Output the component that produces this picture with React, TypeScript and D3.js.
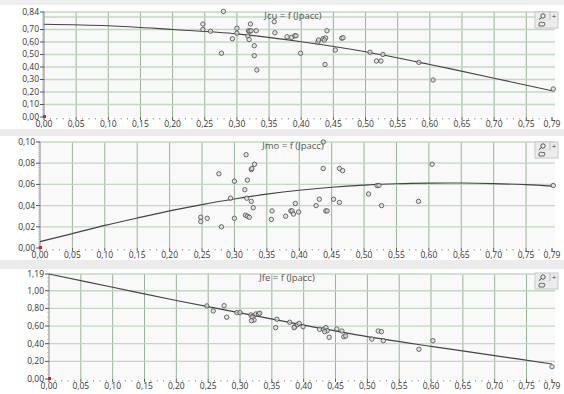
import React from 'react';
import * as d3 from 'd3';

// Jcu = f(Jpacc) measurements [Jpacc, Jcu]
const jcuPoints: [number, number][] = [
  [0.279, 0.845], [0.247, 0.744], [0.247, 0.70], [0.259, 0.686], [0.276, 0.51],
  [0.30, 0.71], [0.30, 0.67], [0.293, 0.626], [0.321, 0.744], [0.318, 0.69],
  [0.32, 0.686], [0.322, 0.69], [0.33, 0.69], [0.317, 0.648], [0.319, 0.62],
  [0.327, 0.57], [0.327, 0.49], [0.331, 0.376], [0.358, 0.762], [0.359, 0.674],
  [0.378, 0.642], [0.385, 0.637], [0.39, 0.65], [0.392, 0.65], [0.399, 0.51],
  [0.426, 0.60], [0.427, 0.616], [0.434, 0.626], [0.438, 0.632], [0.44, 0.69],
  [0.436, 0.616], [0.437, 0.42], [0.453, 0.536], [0.463, 0.63], [0.465, 0.634],
  [0.507, 0.518], [0.517, 0.448], [0.524, 0.448], [0.527, 0.50], [0.583, 0.437],
  [0.605, 0.296], [0.792, 0.224],
];
// fitted curve
const jcuFit: [number, number][] = [
  [0, 0.742], [0.1, 0.73], [0.2, 0.70], [0.3, 0.665], [0.4, 0.602],
  [0.5, 0.522], [0.6, 0.42], [0.7, 0.31], [0.79, 0.21],
];

const jmoPoints: [number, number][] = [
  [0.248, 0.029], [0.248, 0.025], [0.258, 0.028], [0.276, 0.070], [0.28, 0.020],
  [0.294, 0.047], [0.30, 0.063], [0.30, 0.028], [0.318, 0.088], [0.316, 0.055],
  [0.32, 0.064], [0.319, 0.047], [0.326, 0.074], [0.327, 0.075], [0.331, 0.079],
  [0.326, 0.044], [0.329, 0.038], [0.317, 0.031], [0.32, 0.030], [0.323, 0.029],
  [0.358, 0.035], [0.357, 0.027], [0.379, 0.030], [0.387, 0.035], [0.389, 0.035],
  [0.394, 0.042], [0.391, 0.032], [0.399, 0.034], [0.426, 0.040], [0.431, 0.046],
  [0.441, 0.035], [0.443, 0.035], [0.437, 0.075], [0.437, 0.100], [0.453, 0.046],
  [0.462, 0.043], [0.462, 0.075], [0.467, 0.073], [0.507, 0.051], [0.52, 0.059],
  [0.523, 0.059], [0.527, 0.040], [0.584, 0.044], [0.605, 0.079], [0.792, 0.059],
];
const jmoFit: [number, number][] = [
  [0, 0.006], [0.05, 0.0135], [0.1, 0.0213], [0.15, 0.0283], [0.2, 0.035],
  [0.25, 0.041], [0.3, 0.0462], [0.35, 0.0508], [0.4, 0.0545], [0.45, 0.0573],
  [0.5, 0.0593], [0.55, 0.0606], [0.6, 0.0612], [0.65, 0.0613], [0.7, 0.0608],
  [0.75, 0.0597], [0.79, 0.0583],
];

const jfePoints: [number, number][] = [
  [0.248, 0.828], [0.258, 0.771], [0.275, 0.831], [0.279, 0.70], [0.295, 0.752],
  [0.30, 0.752], [0.317, 0.726], [0.321, 0.714], [0.325, 0.737], [0.329, 0.737],
  [0.331, 0.745], [0.319, 0.70], [0.322, 0.669], [0.318, 0.661], [0.358, 0.677],
  [0.356, 0.582], [0.378, 0.643], [0.386, 0.593], [0.39, 0.616], [0.393, 0.631],
  [0.399, 0.593], [0.385, 0.582], [0.425, 0.563], [0.431, 0.563], [0.435, 0.582],
  [0.437, 0.548], [0.433, 0.536], [0.44, 0.473], [0.452, 0.567], [0.46, 0.544],
  [0.463, 0.48], [0.466, 0.488], [0.517, 0.544], [0.522, 0.536], [0.507, 0.453],
  [0.525, 0.434], [0.581, 0.337], [0.603, 0.434], [0.79, 0.139],
];
const jfeFit: [number, number][] = [
  [0, 1.19], [0.1, 1.04], [0.2, 0.89], [0.3, 0.75], [0.4, 0.61],
  [0.5, 0.48], [0.6, 0.37], [0.7, 0.265], [0.79, 0.17],
];

const xTicks = [0, 0.05, 0.1, 0.15, 0.2, 0.25, 0.3, 0.35, 0.4, 0.45, 0.5, 0.55, 0.6, 0.65, 0.7, 0.75, 0.79];

const fmt = (v: number) => d3.format('.2f')(v).replace('.', ',');

interface PanelProps {
  left: number;
  right: number;
  top: number;
  bottom: number;
  yMax: number;
  yLabels: number[];
  yGrid: number[];
  yMinor: number;
  points: [number, number][];
  fit: [number, number][];
  title: string;
  titleX: number;
  iconY: number;
}

const Panel: React.FC<PanelProps> = ({
  left, right, top, bottom, yMax, yLabels, yGrid, yMinor, points, fit, title, titleX, iconY,
}) => {
  const x = d3.scaleLinear().domain([0, 0.79]).range([left, right]);
  const y = d3.scaleLinear().domain([0, yMax]).range([bottom, top]);
  const line = d3
    .line<[number, number]>()
    .x((d) => x(d[0]))
    .y((d) => y(d[1]))
    .curve(d3.curveCatmullRom);

  const minorY = d3.range(0, yMax + 1e-9, yMinor);
  const minorX = d3.range(0, 80).map((i) => i / 100).filter((v) => Math.round(v * 100) % 5 !== 0);

  return (
    <g>
      <rect x={left} y={top} width={right - left + 3} height={bottom - top} fill="#f9f9f9" />
      {/* vertical grid */}
      {xTicks.slice(1, -1).map((t) => (
        <line key={'vg' + t} x1={x(t)} x2={x(t)} y1={top} y2={bottom} stroke="#94b694" strokeWidth={1} />
      ))}
      {/* horizontal grid */}
      {yGrid.map((t) => (
        <line key={'hg' + t} x1={left} x2={right + 3} y1={y(t)} y2={y(t)} stroke="#c2d8c2" strokeWidth={1.3} />
      ))}
      {/* y axis */}
      <line x1={left} x2={left} y1={top} y2={bottom} stroke="#888" />
      {minorY.map((t, i) => (
        <line key={'my' + i} x1={left - 2} x2={left} y1={y(t)} y2={y(t)} stroke="#aaa" strokeWidth={0.6} />
      ))}
      {yLabels.map((t) => (
        <g key={'yl' + t}>
          <line x1={left - 4} x2={left} y1={y(t)} y2={y(t)} stroke="#555" />
          <text x={left - 5} y={y(t)} dy="0.35em" textAnchor="end" fontSize={8.5} fill="#333">
            {fmt(t)}
          </text>
        </g>
      ))}
      {/* x axis */}
      {minorX.map((t) => (
        <line key={'mx' + t} x1={x(t)} x2={x(t)} y1={bottom + 1} y2={bottom + 2.5} stroke="#777" strokeWidth={0.8} />
      ))}
      {xTicks.map((t) => (
        <g key={'xt' + t}>
          <line x1={x(t)} x2={x(t)} y1={bottom} y2={bottom + 3} stroke="#555" />
          <text x={x(t)} y={bottom + 10} textAnchor="middle" fontSize={8.5} fill="#333">
            {fmt(t)}
          </text>
        </g>
      ))}
      <rect x={left - 1} y={bottom - 2} width={3} height={3} fill="#e02020" />
      {/* title */}
      <text x={titleX} y={top + 7} textAnchor="middle" fontSize={9.5} fill="#555">
        {title}
      </text>
      {/* fit curve */}
      <path d={line(fit) || ''} fill="none" stroke="#444" strokeWidth={1.2} />
      {/* measured points */}
      {points.map((d, i) => (
        <circle key={'p' + i} cx={x(d[0])} cy={y(d[1])} r={2.2} fill="#dcdcdc" fillOpacity={0.7} stroke="#4a4a4a" strokeWidth={0.8} />
      ))}
      {/* graph palette icons */}
      <g transform={`translate(535,${iconY})`}>
        <rect x={0} y={0} width={23} height={16} fill="#ececec" stroke="#c8c8c8" />
        <line x1={15} x2={15} y1={0} y2={8} stroke="#bbb" />
        <line x1={0} x2={15} y1={8} y2={8} stroke="#ddd" />
        <circle cx={8} cy={4} r={2.2} fill="none" stroke="#444" strokeWidth={0.9} />
        <line x1={6.5} x2={4} y1={5.5} y2={7.5} stroke="#444" strokeWidth={1} />
        <text x={19} y={6.5} textAnchor="middle" fontSize={8} fill="#444">+</text>
        <path d="M4,14 L4,11 L6,10 L8,11 L9,10 L10,12 L9,14 Z" fill="none" stroke="#444" strokeWidth={0.8} />
      </g>
    </g>
  );
};

export default function App() {
  return (
    <svg
      width={564}
      height={394}
      style={{ position: 'absolute', left: 0, top: 0, fontFamily: '"Open Sans", "DejaVu Sans", sans-serif' }}
    >
      <rect x={0} y={0} width={564} height={394} fill="#ffffff" />
      <rect x={0} y={0} width={564} height={5} fill="#efefef" />
      <rect x={0} y={129} width={564} height={7} fill="#ececec" />
      <rect x={0} y={260} width={564} height={9} fill="#ececec" />
      <Panel
        left={44} right={552} top={12} bottom={117} yMax={0.84}
        yLabels={[0, 0.1, 0.2, 0.3, 0.4, 0.5, 0.6, 0.7, 0.84]}
        yGrid={[0.1, 0.2, 0.3, 0.4, 0.5, 0.6, 0.7, 0.8, 0.84]}
        yMinor={0.01}
        points={jcuPoints} fit={jcuFit} title="Jcu = f (Jpacc)" titleX={293} iconY={12}
      />
      <Panel
        left={40} right={552} top={142} bottom={248} yMax={0.1}
        yLabels={[0, 0.02, 0.04, 0.06, 0.08, 0.1]}
        yGrid={[0.02, 0.04, 0.06, 0.08, 0.1]}
        yMinor={0.002}
        points={jmoPoints} fit={jmoFit} title="Jmo = f (Jpacc)" titleX={293} iconY={142}
      />
      <Panel
        left={49} right={552} top={274} bottom={379} yMax={1.19}
        yLabels={[0, 0.2, 0.4, 0.6, 0.8, 1.0, 1.19]}
        yGrid={[0.2, 0.4, 0.6, 0.8, 1.0, 1.19]}
        yMinor={0.05}
        points={jfePoints} fit={jfeFit} title="Jfe = f (Jpacc)" titleX={287} iconY={273}
      />
    </svg>
  );
}
